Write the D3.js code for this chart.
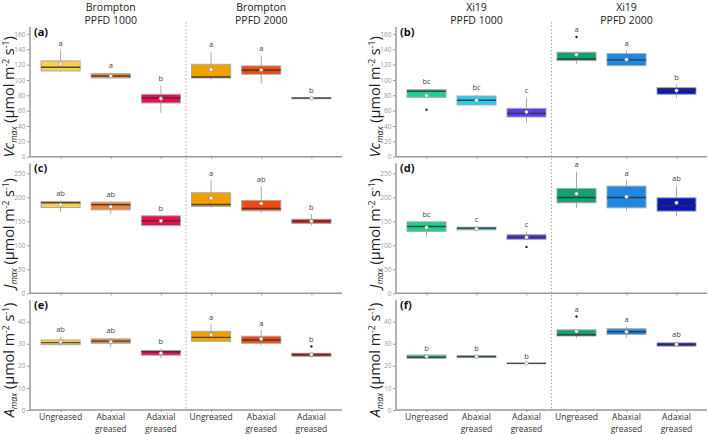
<!DOCTYPE html>
<html>
<head>
<meta charset="utf-8">
<script src="https://cdn.jsdelivr.net/npm/d3@7"></script>
<style>
  body { margin: 0; background: #fff; }
  text { font-family: "Open Sans", sans-serif; }
</style>
</head>
<body>
<svg id="chart" width="709" height="434"></svg>
<script>
// treatments, repeated for PPFD 1000 and PPFD 2000
var treatments = ['Ungreased', 'Abaxial greased', 'Adaxial greased'];
var headers = [['Brompton', 'PPFD 1000'], ['Brompton', 'PPFD 2000'], ['Xi19', 'PPFD 1000'], ['Xi19', 'PPFD 2000']];

// box stats per group: [whisker low, q1, median, q3, whisker high, mean]
var vcBrompton = [[111, 111.7, 116.5, 124.8, 138.7, 120.9], [102, 102.6, 105.2, 108.3, 110, 105], [57, 70, 76.5, 81.3, 92.6, 75.7],
  [100.4, 102.6, 103.9, 120.4, 136.5, 113.5], [95.2, 107.4, 112.6, 118.3, 131.7, 113], [75, 75.6, 76.3, 77, 77.6, 76.3]];
var vcXi19 = [[77, 77.4, 85.2, 87.4, 88.3, 79.6], [66.5, 67.4, 73.5, 79.1, 80.9, 73.5], [44.8, 51.7, 56.5, 63, 76.5, 58.3],
  [120.9, 125.2, 127.4, 136.1, 136.5, 133], [117.8, 118.7, 126.1, 134.3, 138.7, 126.5], [76.5, 81.3, 87, 90, 94, 86.1]];
var jBrompton = [[169.8, 178.9, 188.7, 191.5, 193.5, 184.5], [165.7, 174, 184.5, 190, 192, 180.3], [141.3, 141.3, 151, 161.5, 161.5, 151],
  [178.2, 181, 185.2, 209.6, 235.4, 198.4], [167.8, 172, 176.8, 193.5, 222.8, 187.3], [141.3, 145.5, 151, 154.5, 165, 150.3]];
var jXi19 = [[118.3, 128.7, 139.2, 149, 149, 137], [129.4, 132.2, 135.7, 137.8, 139, 134.3], [112, 112, 116.9, 122.4, 128.7, 116.9],
  [178.2, 188.7, 199.8, 218.6, 253.5, 207.5], [171.2, 178.2, 199.8, 223.5, 235.4, 201.2], [161.5, 171.2, 183.1, 199.1, 224.2, 188.7]];
var aBrompton = [[29, 29.6, 30.5, 31.7, 33.2, 30.8], [28.4, 30.2, 31.2, 32.2, 32.8, 30.9], [23.4, 24.8, 26.4, 27, 27.8, 25.7],
  [30.8, 31.1, 32.9, 35.6, 38.9, 34], [29.3, 30.2, 31.7, 33.4, 36.2, 32.2], [23.8, 24.3, 25.1, 25.7, 25.7, 25.1]];
var aXi19 = [[23.4, 23.4, 23.9, 24.9, 24.9, 24.2], [23.7, 23.7, 24.2, 24.5, 24.5, 24.2], [21, 21, 21.1, 21.2, 21.2, 21.1],
  [32.4, 33.5, 34.1, 36.3, 36.3, 35.6], [32.7, 34.2, 35.4, 36.8, 37.7, 35.4], [28.6, 28.9, 29.7, 30.4, 30.9, 29.7]];

// outliers: [group index, value]
var vcXi19Out = [[0, 61.3], [3, 156]];
var jXi19Out = [[2, 96.7]];
var aBromptonOut = [[5, 28.8]];
var aXi19Out = [[3, 42.3]];

// significance letters
var vcBromptonLetters = ['a', 'a', 'b', 'a', 'a', 'b'];
var vcXi19Letters = ['bc', 'bc', 'c', 'a', 'a', 'b'];
var jBromptonLetters = ['ab', 'ab', 'b', 'a', 'ab', 'b'];
var jXi19Letters = ['bc', 'c', 'c', 'a', 'a', 'ab'];
var aBromptonLetters = ['ab', 'ab', 'b', 'a', 'a', 'b'];
var aXi19Letters = ['b', 'b', 'b', 'a', 'a', 'ab'];

var bromptonColors = ['#F8D04C', '#F08537', '#E8104F', '#F0A000', '#F04A10', '#E3201E'];
var xi19Colors = ['#1FCF8C', '#22CDF0', '#5A3DE6', '#14A070', '#1E88E0', '#0A14B8'];

var vcTicks = [0, 20, 40, 60, 80, 100, 120, 140, 160];
var jTicks = [0, 50, 100, 150, 200, 250];
var aTicks = [0, 10, 20, 30, 40];

var svg = d3.select('#chart');

var cols = [{ x0: 30, x1: 342 }, { x0: 396, x1: 707 }];
var rows = [
  { y0: 27, y1: 156.7, max: 169, ticks: vcTicks, sym: 'Vc' },
  { y0: 163.3, y1: 293.3, max: 271, ticks: jTicks, sym: 'J' },
  { y0: 300, y1: 410, max: 49.8, ticks: aTicks, sym: 'A' }
];

var panels = [
  { col: 0, row: 0, tag: '(a)', stats: vcBrompton, out: [], letters: vcBromptonLetters, colors: bromptonColors },
  { col: 1, row: 0, tag: '(b)', stats: vcXi19, out: vcXi19Out, letters: vcXi19Letters, colors: xi19Colors },
  { col: 0, row: 1, tag: '(c)', stats: jBrompton, out: [], letters: jBromptonLetters, colors: bromptonColors },
  { col: 1, row: 1, tag: '(d)', stats: jXi19, out: jXi19Out, letters: jXi19Letters, colors: xi19Colors },
  { col: 0, row: 2, tag: '(e)', stats: aBrompton, out: aBromptonOut, letters: aBromptonLetters, colors: bromptonColors },
  { col: 1, row: 2, tag: '(f)', stats: aXi19, out: aXi19Out, letters: aXi19Letters, colors: xi19Colors }
];

function xScaleFor(c) {
  return d3.scalePoint().domain(d3.range(6)).range([c.x0, c.x1]).padding(0.61);
}

// dotted dividers between light levels and column headers
cols.forEach(function(c, ci) {
  var x = xScaleFor(c);
  var mid = (x(2) + x(3)) / 2;
  svg.append('line')
    .attr('x1', mid).attr('x2', mid).attr('y1', 22).attr('y2', 410)
    .attr('stroke', '#aaa').attr('stroke-width', 1).attr('stroke-dasharray', '1.5,2');

  [1, 4].forEach(function(g, k) {
    var h = headers[ci * 2 + k];
    svg.append('text')
      .attr('x', x(g)).attr('y', 11).attr('text-anchor', 'middle')
      .attr('font-size', 10.5).attr('fill', '#222').text(h[0]);
    svg.append('text')
      .attr('x', x(g)).attr('y', 23.5).attr('text-anchor', 'middle')
      .attr('font-size', 10.5).attr('fill', '#222').text(h[1]);
  });
});

panels.forEach(function(p) {
  var c = cols[p.col], r = rows[p.row];
  var x = xScaleFor(c);
  var y = d3.scaleLinear().domain([0, r.max]).range([r.y1, r.y0]);
  var boxW = x.step() * 0.78;
  var g = svg.append('g');

  // y axis
  var yAxis = g.append('g')
    .attr('transform', 'translate(' + c.x0 + ',0)')
    .call(d3.axisLeft(y).tickValues(r.ticks).tickSize(3).tickPadding(1.5));
  yAxis.select('.domain').remove();
  yAxis.selectAll('line').attr('stroke', '#999');
  yAxis.selectAll('text').attr('fill', '#999').attr('font-size', 6.5);
  g.append('line')
    .attr('x1', c.x0).attr('x2', c.x0).attr('y1', r.y0).attr('y2', r.y1)
    .attr('stroke', '#999').attr('stroke-width', 1.5);

  // x axis
  var xAxis = g.append('g')
    .attr('transform', 'translate(0,' + r.y1 + ')')
    .call(d3.axisBottom(x).tickSize(2).tickFormat(''));
  xAxis.select('.domain').remove();
  xAxis.selectAll('line').attr('stroke', '#999');
  g.append('line')
    .attr('x1', c.x0).attr('x2', c.x1).attr('y1', r.y1).attr('y2', r.y1)
    .attr('stroke', '#999').attr('stroke-width', 1.5);

  // panel tag
  g.append('text')
    .attr('x', c.x0 + 4).attr('y', r.y0 + 9)
    .attr('font-size', 11).attr('font-weight', 'bold').attr('fill', '#111')
    .text(p.tag);

  // y label
  var ly = (r.y0 + r.y1) / 2 + 5;
  var lab = g.append('text')
    .attr('transform', 'translate(' + (c.x0 - 16) + ',' + ly + ') rotate(-90)')
    .attr('text-anchor', 'middle').attr('font-size', 14.5).attr('fill', '#222');
  lab.append('tspan').attr('font-style', 'italic').text(r.sym);
  lab.append('tspan').attr('font-style', 'italic').attr('font-size', 8.5).attr('dy', 2.5).text('max');
  lab.append('tspan').attr('dy', -2.5).text(' (\u03bcmol m');
  lab.append('tspan').attr('font-size', 8.5).attr('dy', -5).text('-2');
  lab.append('tspan').attr('dy', 5).text(' s');
  lab.append('tspan').attr('font-size', 8.5).attr('dy', -5).text('-1');
  lab.append('tspan').attr('dy', 5).text(')');

  // boxes
  var grp = g.selectAll('.box').data(p.stats).enter().append('g').attr('class', 'box');
  grp.append('line')
    .attr('x1', function(d, i) { return x(i); }).attr('x2', function(d, i) { return x(i); })
    .attr('y1', function(d) { return y(d[0]); }).attr('y2', function(d) { return y(d[4]); })
    .attr('stroke', '#aaa').attr('stroke-width', 1);
  grp.append('rect')
    .attr('x', function(d, i) { return x(i) - boxW / 2; })
    .attr('width', boxW)
    .attr('y', function(d) { return y(d[3]); })
    .attr('height', function(d) { return Math.max(0.5, y(d[1]) - y(d[3])); })
    .attr('fill', function(d, i) { return p.colors[i]; })
    .attr('stroke', '#aaa').attr('stroke-width', 1);
  grp.append('line')
    .attr('x1', function(d, i) { return x(i) - boxW / 2; })
    .attr('x2', function(d, i) { return x(i) + boxW / 2; })
    .attr('y1', function(d) { return y(d[2]); }).attr('y2', function(d) { return y(d[2]); })
    .attr('stroke', '#333').attr('stroke-opacity', 0.85).attr('stroke-width', 1.4);
  grp.append('circle')
    .attr('cx', function(d, i) { return x(i); })
    .attr('cy', function(d) { return y(d[5]); })
    .attr('r', 1.8).attr('fill', '#fff').attr('stroke', '#888').attr('stroke-width', 0.6);

  // outliers
  g.selectAll('.out').data(p.out).enter().append('circle')
    .attr('cx', function(d) { return x(d[0]); })
    .attr('cy', function(d) { return y(d[1]); })
    .attr('r', 1.2).attr('fill', '#222');

  // letters
  g.selectAll('.let').data(p.letters).enter().append('text')
    .attr('x', function(d, i) { return x(i); })
    .attr('y', function(d, i) {
      var top = p.stats[i][4];
      p.out.forEach(function(o) { if (o[0] === i) top = Math.max(top, o[1]); });
      return y(top) - 4.5;
    })
    .attr('text-anchor', 'middle').attr('font-size', 7.5).attr('fill', '#444')
    .text(function(d) { return d; });

  // category labels on the bottom row, one text per line
  if (p.row === 2) {
    d3.range(6).forEach(function(i) {
      treatments[i % 3].split(' ').forEach(function(w, k) {
        g.append('text')
          .attr('x', x(i)).attr('y', 420 + k * 11.5)
          .attr('text-anchor', 'middle').attr('font-size', 8.5).attr('fill', '#333')
          .text(w);
      });
    });
  }
});
</script>
</body>
</html>
